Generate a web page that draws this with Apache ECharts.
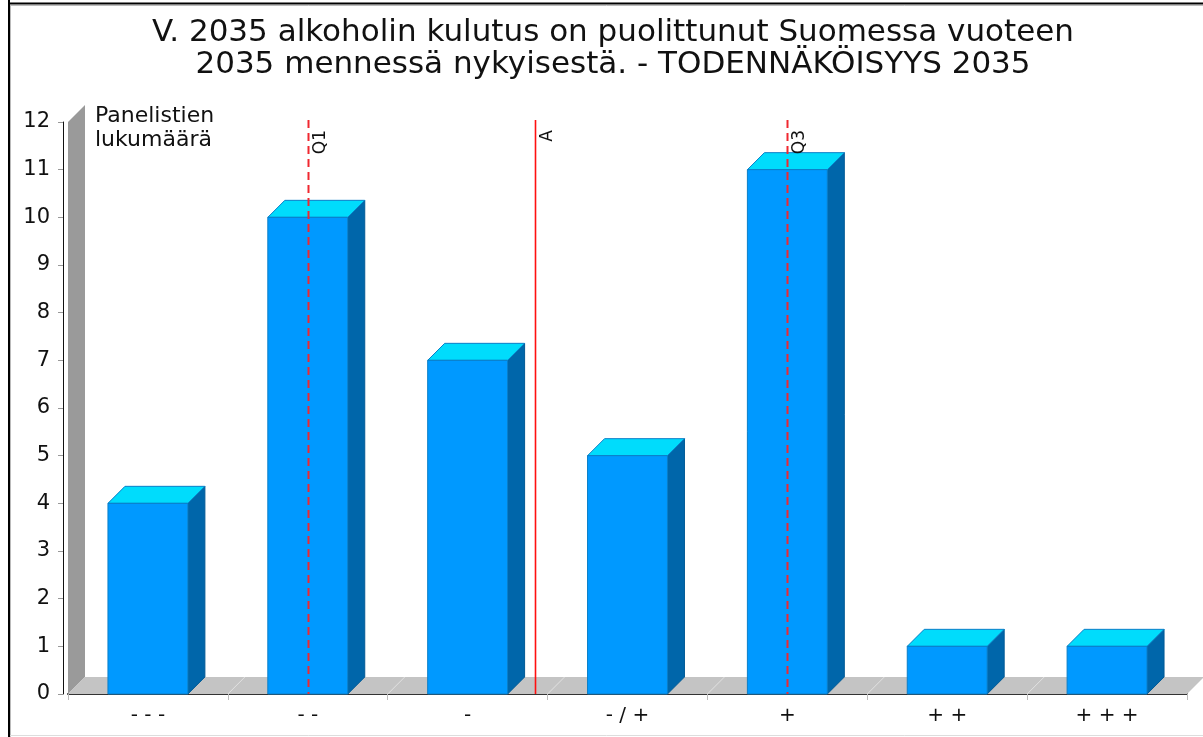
<!DOCTYPE html>
<html>
<head>
<meta charset="utf-8">
<script src="https://cdn.jsdelivr.net/npm/echarts@6/dist/echarts.min.js"></script>
<style>
  html, body { margin: 0; padding: 0; background: #fff; }
  #chart { width: 1203px; height: 737px; }
</style>
</head>
<body>
<div id="chart"></div>
<script>
const titleLines = [
  'V. 2035 alkoholin kulutus on puolittunut Suomessa vuoteen',
  '2035 mennessä nykyisestä. - TODENNÄKÖISYYS 2035',
]
const axisName = 'Panelistien\nlukumäärä'
const categories = ['- - -', '- -', '-', '- / +', '+', '+ +', '+ + +']
const counts = [4, 10, 7, 5, 11, 1, 1]
// marker positions in category units (index of category, fractions allowed)
const markerNames = ['Q1', 'A', 'Q3']
const markerPositions = [1, 2.42, 4]
const markerDashed = [true, false, true]

const DX = 17
const DY = 17
const font = 'DejaVu Sans'

const chart = echarts.init(document.getElementById('chart'))

function renderBox(params, api) {
  const cs = params.coordSys
  const band = api.size([1, 0])[0]
  const x0 = cs.x
  const x1 = cs.x + cs.width
  const yTop = cs.y
  const yBot = cs.y + cs.height
  const children = [
    {
      type: 'polygon',
      shape: { points: [[x0, yBot], [x0, yTop], [x0 + DX, yTop - DY], [x0 + DX, yBot - DY]] },
      style: { fill: '#9a9a9a' },
    },
    {
      type: 'polygon',
      shape: { points: [[x0, yBot], [x1, yBot], [x1 + DX, yBot - DY], [x0 + DX, yBot - DY]] },
      style: { fill: '#c4c4c4' },
    },
  ]
  for (let i = 1; i < categories.length; i++) {
    const x = x0 + i * band
    children.push({
      type: 'line',
      shape: { x1: x, y1: yBot, x2: x + DX, y2: yBot - DY },
      style: { stroke: '#e2e2e2', lineWidth: 1 },
    })
  }
  return { type: 'group', children }
}

function renderBar(params, api) {
  const idx = api.value(0)
  const val = api.value(1)
  const base = api.coord([idx, 0])
  const top = api.coord([idx, val])
  const half = api.size([1, 0])[0] * 0.25
  const l = base[0] - half
  const r = base[0] + half
  const yb = base[1]
  const yt = top[1]
  const edge = '#0a7fc8'
  return {
    type: 'group',
    children: [
      {
        type: 'polygon',
        shape: { points: [[r, yb], [r + DX, yb - DY], [r + DX, yt - DY], [r, yt]] },
        style: { fill: '#0066aa', stroke: '#005a96', lineWidth: 1 },
      },
      {
        type: 'polygon',
        shape: { points: [[l, yt], [r, yt], [r + DX, yt - DY], [l + DX, yt - DY]] },
        style: { fill: '#00dcfc', stroke: edge, lineWidth: 1 },
      },
      {
        type: 'rect',
        shape: { x: l, y: yt, width: r - l, height: yb - yt },
        style: { fill: '#0099ff', stroke: edge, lineWidth: 1 },
      },
    ],
  }
}

function renderMarker(params, api) {
  const cs = params.coordSys
  const band = api.size([1, 0])[0]
  const i = params.dataIndex
  const x = Math.round(cs.x + (markerPositions[i] + 0.5) * band) + 0.5
  return {
    type: 'group',
    children: [
      {
        type: 'line',
        shape: { x1: x, y1: cs.y - 2, x2: x, y2: cs.y + cs.height },
        style: {
          stroke: markerDashed[i] ? '#f02830' : '#ff1010',
          lineWidth: markerDashed[i] ? 2 : 1.6,
          lineDash: markerDashed[i] ? [8, 5] : null,
        },
      },
      {
        type: 'text',
        x: x + 4,
        y: cs.y + 8,
        rotation: Math.PI / 2,
        style: {
          text: markerNames[i],
          font: `17px "${font}"`,
          fill: '#111',
          align: 'right',
          verticalAlign: 'top',
        },
      },
    ],
  }
}

chart.setOption({
  animation: false,
  backgroundColor: '#fff',
  title: {
    text: titleLines.join('\n'),
    left: 613,
    top: 17,
    padding: 0,
    textAlign: 'center',
    textStyle: { fontFamily: font, fontSize: 31, fontWeight: 'normal', color: '#111', lineHeight: 32 },
  },
  graphic: [
    { type: 'line', shape: { x1: 9, y1: 0, x2: 9, y2: 737 }, style: { stroke: '#000', lineWidth: 2 } },
    { type: 'line', shape: { x1: 8, y1: 3.5, x2: 1203, y2: 3.5 }, style: { stroke: '#000', lineWidth: 2 } },
    { type: 'line', shape: { x1: 10.5, y1: 5, x2: 10.5, y2: 737 }, style: { stroke: '#bbb', lineWidth: 1 } },
    { type: 'line', shape: { x1: 10, y1: 5.5, x2: 1203, y2: 5.5 }, style: { stroke: '#bbb', lineWidth: 1 } },
    { type: 'line', shape: { x1: 10, y1: 735.5, x2: 1203, y2: 735.5 }, style: { stroke: '#ddd', lineWidth: 1 } },
    {
      type: 'text', left: 95, top: 104, z: 10,
      style: { text: axisName, font: `22px "${font}"`, fill: '#111', lineHeight: 24 },
    },
  ],
  grid: { left: 68, right: 16, top: 122, bottom: 43 },
  xAxis: {
    type: 'category',
    data: categories,
    axisLine: { lineStyle: { color: '#333', width: 2 } },
    axisTick: { show: true, length: 6, lineStyle: { color: '#bbb' } },
    axisLabel: { fontFamily: font, fontSize: 20, color: '#111', margin: 12 },
    splitLine: { show: false },
  },
  yAxis: {
    type: 'value',
    min: 0,
    max: 12,
    interval: 1,
    offset: 5,
    axisLine: { show: true, lineStyle: { color: '#111', width: 1 } },
    axisTick: { show: true, length: 5, lineStyle: { color: '#999' } },
    axisLabel: { fontFamily: font, fontSize: 21, color: '#111', margin: 13 },
    splitLine: { show: false },
  },
  series: [
    {
      type: 'custom',
      renderItem: renderBox,
      data: [[0, 0]],
      z: 1,
      silent: true,
    },
    {
      type: 'custom',
      renderItem: renderBar,
      data: counts.map((v, i) => [i, v]),
      z: 2,
    },
    {
      type: 'custom',
      renderItem: renderMarker,
      data: markerPositions.map((p, i) => [p, 0]),
      z: 3,
      silent: true,
    },
  ],
})
</script>
</body>
</html>
